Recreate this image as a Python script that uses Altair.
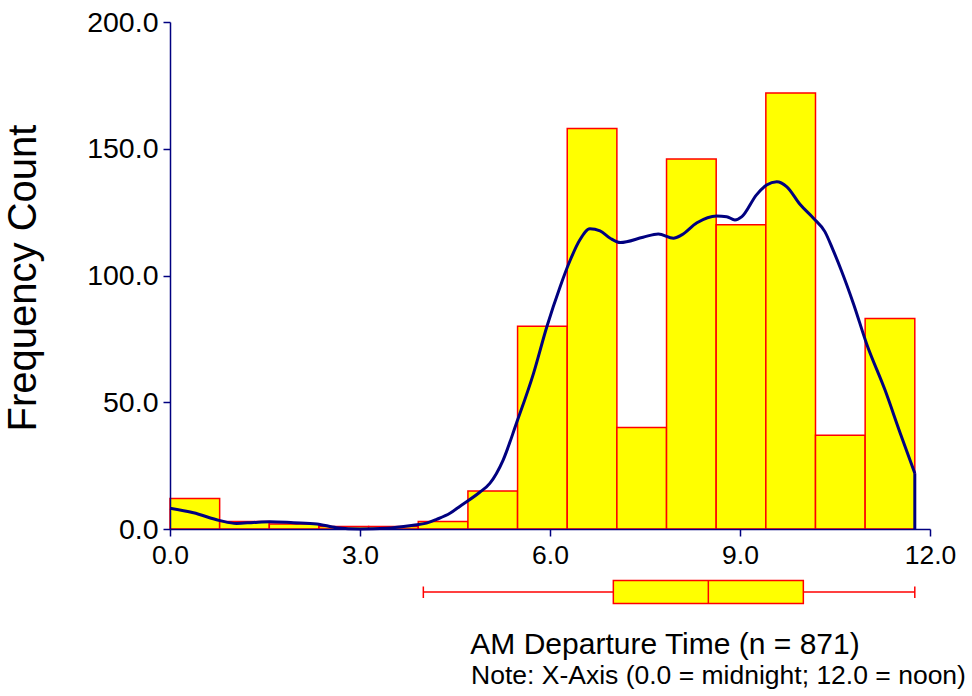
import altair as alt
import pandas as pd

# ---- data ----
bin_width = 0.784
counts = [12, 3, 2, 1, 1, 3, 15, 80, 158, 40, 146, 120, 172, 37, 83]

curve_x = [0.0, 0.37, 0.79, 1.05, 1.32, 1.58, 1.95, 2.32, 2.63, 3.0, 3.42, 3.84,
           4.05, 4.21, 4.42, 4.58, 4.89, 5.05, 5.26, 5.47, 5.74, 5.95, 6.16, 6.32,
           6.47, 6.63, 6.79, 6.95, 7.11, 7.47, 7.71, 7.95, 8.08, 8.32, 8.63, 8.79,
           8.92, 9.03, 9.26, 9.42, 9.58, 9.74, 9.95, 10.16, 10.34, 10.47, 10.6,
           10.79, 11.0, 11.29, 11.53, 11.76]
curve_y = [8.2, 6.4, 3.3, 2.2, 2.6, 2.9, 2.5, 2.0, 0.5, 0.0, 0.3, 1.5,
           2.3, 3.8, 6.2, 9.0, 14.5, 18.0, 27.2, 41.7, 61.4, 79.8, 95.6, 106.1,
           114.0, 118.4, 117.6, 114.7, 113.0, 115.1, 116.4, 114.7, 116.0, 120.8, 123.5, 123.2,
           121.9, 123.2, 131.8, 135.7, 137.0, 135.0, 128.0, 122.6, 117.3, 110.0, 102.0,
           89.0, 73.0, 54.8, 37.8, 22.0]

box_lo, box_q1, box_med, box_q3, box_hi = 4.0, 7.0, 8.5, 10.0, 11.76

x_ticks = [0, 3, 6, 9, 12]
y_ticks = [0, 50, 100, 150, 200]
y_title = "Frequency Count"
x_title = "AM Departure Time (n = 871)"
note_text = "Note: X-Axis (0.0 = midnight; 12.0 = noon)"

# ---- tables ----
bars_df = pd.DataFrame({
    "start": [i * bin_width for i in range(len(counts))],
    "end": [(i + 1) * bin_width for i in range(len(counts))],
    "count": counts,
})
curve_df = pd.DataFrame({"x": curve_x, "y": curve_y})
drop_df = pd.DataFrame({"x": [curve_x[-1]], "y": [0.0], "y2": [curve_y[-1]]})
box_df = pd.DataFrame({"lo": [box_lo], "q1": [box_q1], "med": [box_med],
                       "q3": [box_q3], "hi": [box_hi]})
txt_df = pd.DataFrame({"t": [y_title], "xt": [x_title], "nt": [note_text]})

NAVY = "#000080"
RED = "#FF0000"
YEL = "#FFFF00"
FONT = "Liberation Sans"
xs = alt.Scale(domain=[0, 12], nice=False, zero=False)
ys = alt.Scale(domain=[0, 200], nice=False)

x_axis = alt.Axis(
    values=x_ticks, format=".1f", title=None, grid=False,
    domainColor=NAVY, domainWidth=1.5, tickColor=NAVY, tickWidth=1.5, tickSize=7,
    labelFontSize=26.5, labelFont=FONT, labelColor="black", labelPadding=6,
    labelFlush=False, labelOverlap=False, zindex=1)
y_axis = alt.Axis(
    values=y_ticks, format=".1f", title=None, grid=False,
    domainColor=NAVY, domainWidth=1.5, tickColor=NAVY, tickWidth=1.5, tickSize=7,
    labelFontSize=28.5, labelFont=FONT, labelColor="black", labelPadding=5,
    labelFlush=False, labelOverlap=False, zindex=1)

bars = alt.Chart(bars_df).mark_rect(fill=YEL, stroke=RED, strokeWidth=1.5).encode(
    x=alt.X("start:Q", scale=xs, axis=x_axis),
    x2="end:Q",
    y=alt.Y("count:Q", scale=ys, axis=y_axis),
    y2=alt.Y2(datum=0),
)

curve = alt.Chart(curve_df).mark_line(color=NAVY, strokeWidth=3, interpolate="monotone").encode(
    x=alt.X("x:Q", scale=xs, axis=x_axis),
    y=alt.Y("y:Q", scale=ys, axis=y_axis),
)
drop = alt.Chart(drop_df).mark_rule(color=NAVY, strokeWidth=3).encode(
    x=alt.X("x:Q", scale=xs, axis=x_axis),
    y=alt.Y("y:Q", scale=ys, axis=y_axis),
    y2="y2:Q",
)

# box plot below the axis
whisker = alt.Chart(box_df).mark_rule(color=RED, strokeWidth=1.5).encode(
    x=alt.X("lo:Q", scale=xs, axis=x_axis), x2="hi:Q", y=alt.value(570))
cap_lo = alt.Chart(box_df).mark_rule(color=RED, strokeWidth=1.5).encode(
    x=alt.X("lo:Q", scale=xs, axis=x_axis), y=alt.value(564.5), y2=alt.value(576))
cap_hi = alt.Chart(box_df).mark_rule(color=RED, strokeWidth=1.5).encode(
    x=alt.X("hi:Q", scale=xs, axis=x_axis), y=alt.value(564.5), y2=alt.value(576))
box = alt.Chart(box_df).mark_rect(fill=YEL, stroke=RED, strokeWidth=1.5).encode(
    x=alt.X("q1:Q", scale=xs, axis=x_axis), x2="q3:Q", y=alt.value(558.5), y2=alt.value(581.5))
median = alt.Chart(box_df).mark_rule(color=RED, strokeWidth=1.5).encode(
    x=alt.X("med:Q", scale=xs, axis=x_axis), y=alt.value(558.5), y2=alt.value(581.5))

ytitle = alt.Chart(txt_df).mark_text(
    angle=270, font=FONT, fontSize=40, color="black", align="center", baseline="alphabetic"
).encode(text="t:N", x=alt.value(-134), y=alt.value(256))
xtitle = alt.Chart(txt_df).mark_text(
    font=FONT, fontSize=30, color="black", align="center", baseline="alphabetic"
).encode(text="xt:N", x=alt.value(495), y=alt.value(632))
note = alt.Chart(txt_df).mark_text(
    font=FONT, fontSize=26.5, color="black", align="left", baseline="alphabetic"
).encode(text="nt:N", x=alt.value(301), y=alt.value(662))

chart = alt.layer(
    bars, curve, drop, whisker, cap_lo, cap_hi, box, median, ytitle, xtitle, note
).properties(
    width=760, height=507,
    padding={"left": 170, "top": 22, "right": 42, "bottom": 167},
    autosize=alt.AutoSizeParams(type="none"),
    background="white",
).configure_view(stroke=None)

chart.save("out.html", embed_options={"renderer": "svg", "actions": False})
